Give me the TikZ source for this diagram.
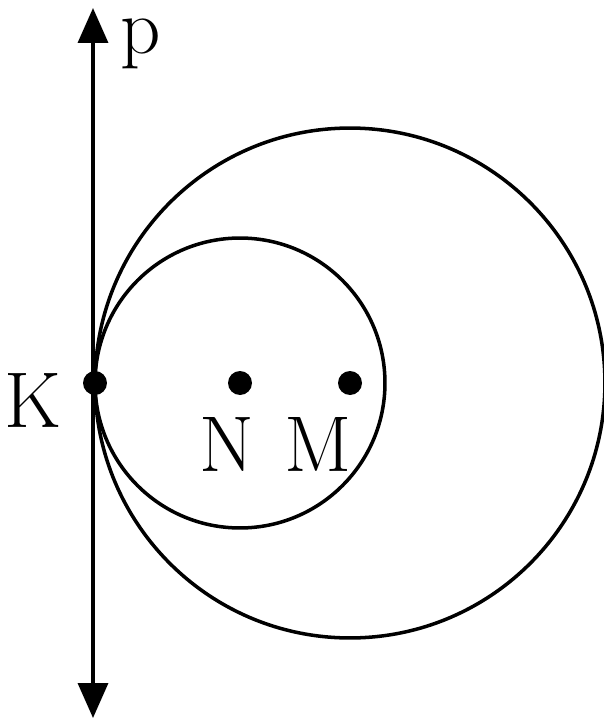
\documentclass[tikz,border=0pt]{standalone}
\usepackage{tikz}
\usetikzlibrary{arrows.meta}

\begin{document}
\begin{tikzpicture}[x=0.02cm, y=-0.02cm, line width=2pt,
    pt/.style={circle, fill, inner sep=0pt, minimum size=0.48cm},
    lbl/.style={font=\fontsize{45}{45}\selectfont, inner sep=0pt}]
    \useasboundingbox (0, 0) rectangle (604, 720);

    \node[pt] at (95, 383) (K) {};
    \node[pt] at (240, 383) (N) {};
    \node[pt] at (350, 383) (M) {};
    \coordinate (top) at (93, 8);
    \coordinate (bot) at (93, 718);

    \node[lbl] at (33, 400) (Klbl) {K};
    \node[lbl] at (227, 444) (Nlbl) {N};
    \node[lbl] at (318, 444) (Mlbl) {M};
    \node[lbl] at (141, 44) (plbl) {p};

    \draw (N.center) circle (2.9cm);
    \draw (M.center) circle (5.1cm);
    \draw[{Triangle[width=0.6cm, length=0.7cm]}-{Triangle[width=0.6cm, length=0.7cm]}] (top) -- (bot);
\end{tikzpicture}
\end{document}
